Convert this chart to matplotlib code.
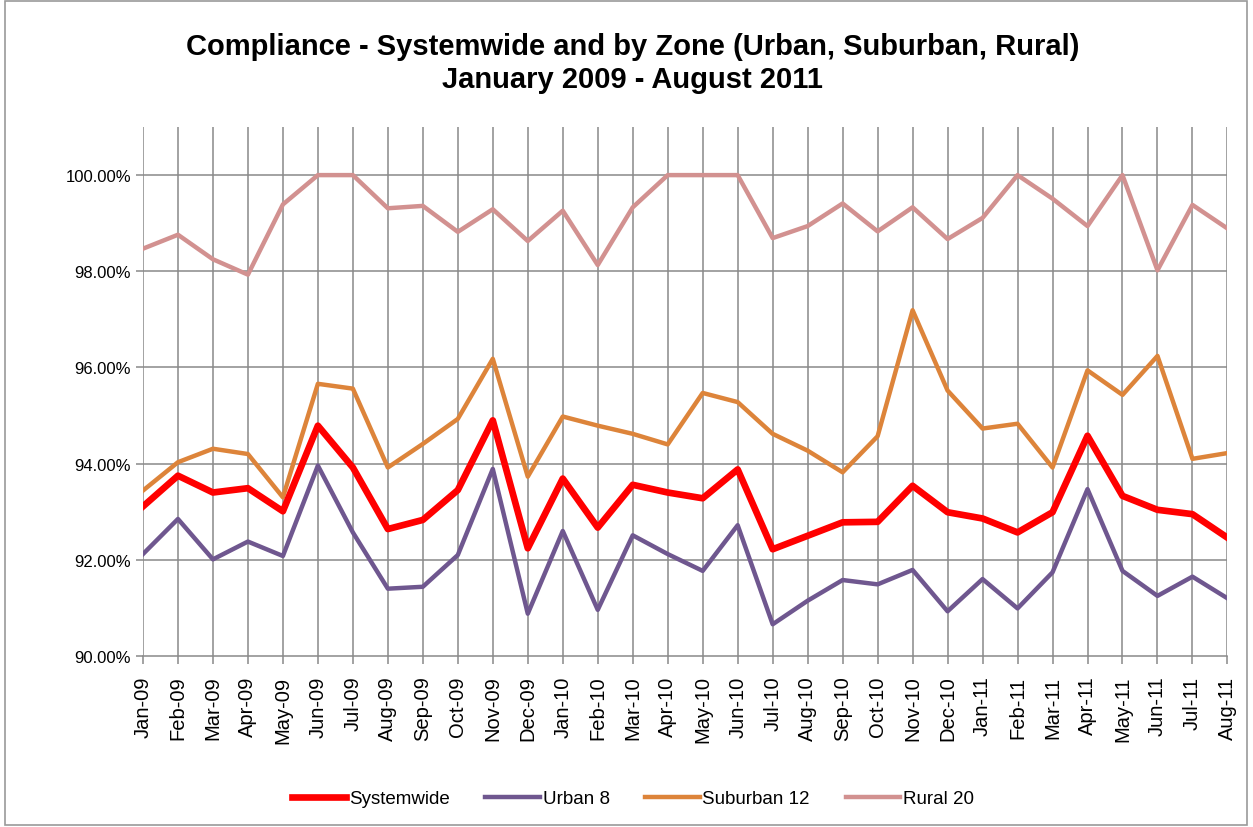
# Compliance chart: systemwide and by zone, Jan 2009 - Aug 2011

import matplotlib
matplotlib.use('Agg')
import matplotlib.pyplot as plt
from matplotlib.patches import Rectangle
from matplotlib.ticker import FuncFormatter

# ---------- Data ----------

months = ['Jan-09', 'Feb-09', 'Mar-09', 'Apr-09', 'May-09', 'Jun-09', 'Jul-09', 'Aug-09',
          'Sep-09', 'Oct-09', 'Nov-09', 'Dec-09', 'Jan-10', 'Feb-10', 'Mar-10', 'Apr-10',
          'May-10', 'Jun-10', 'Jul-10', 'Aug-10', 'Sep-10', 'Oct-10', 'Nov-10', 'Dec-10',
          'Jan-11', 'Feb-11', 'Mar-11', 'Apr-11', 'May-11', 'Jun-11', 'Jul-11', 'Aug-11']

systemwide = [93.11, 93.75, 93.40, 93.49, 93.01, 94.79, 93.92, 92.64, 92.83, 93.45,
              94.90, 92.24, 93.69, 92.67, 93.56, 93.40, 93.28, 93.88, 92.22, 92.50,
              92.78, 92.79, 93.54, 92.99, 92.86, 92.57, 92.99, 94.58, 93.33, 93.04,
              92.95, 92.46]
urban = [92.12, 92.85, 92.01, 92.38, 92.08, 93.96, 92.57, 91.40, 91.44, 92.10,
         93.89, 90.88, 92.60, 90.96, 92.51, 92.12, 91.77, 92.72, 90.66, 91.15,
         91.58, 91.49, 91.79, 90.93, 91.60, 90.99, 91.74, 93.47, 91.77, 91.25,
         91.65, 91.20]
suburban = [93.44, 94.03, 94.31, 94.20, 93.30, 95.66, 95.56, 93.92, 94.41, 94.93,
            96.18, 93.73, 94.98, 94.79, 94.62, 94.40, 95.47, 95.28, 94.62, 94.27,
            93.82, 94.57, 97.19, 95.52, 94.73, 94.83, 93.92, 95.94, 95.43, 96.24,
            94.10, 94.22]
rural = [98.47, 98.76, 98.25, 97.93, 99.39, 100.0, 100.0, 99.31, 99.36, 98.82,
         99.29, 98.63, 99.26, 98.13, 99.33, 100.0, 100.0, 100.0, 98.69, 98.94,
         99.41, 98.83, 99.33, 98.67, 99.11, 100.0, 99.51, 98.94, 100.0, 98.02,
         99.38, 98.89]

labels = ['Systemwide', 'Urban 8', 'Suburban 12', 'Rural 20']
title1 = 'Compliance - Systemwide and by Zone (Urban, Suburban, Rural)'
title2 = 'January 2009 - August 2011'

# ---------- Plot ----------

plt.rcParams['font.family'] = ['Liberation Sans', 'DejaVu Sans']

fig = plt.figure(figsize=(12.53, 8.28), dpi=100)
ax = fig.add_axes([0.1141, 0.2065, 0.8655, 0.6389])

grid_col = '#898989'
x = list(range(len(months)))
ax.plot(x, systemwide, color='#FF0000', lw=4.8, label=labels[0], zorder=5)
ax.plot(x, urban, color='#6F578F', lw=3.2, label=labels[1], zorder=4)
ax.plot(x, suburban, color='#DD843A', lw=3.2, label=labels[2], zorder=3)
ax.plot(x, rural, color='#D29190', lw=3.2, label=labels[3], zorder=3)

ax.set_xlim(0, len(months) - 1)
ax.set_ylim(90, 101)
ax.set_yticks([90, 92, 94, 96, 98, 100])
ax.yaxis.set_major_formatter(FuncFormatter(lambda v, p: f'{v:.2f}%'))
ax.set_xticks(x)
ax.set_xticklabels(months, rotation=90, fontsize=14.5)
ax.tick_params(axis='y', labelsize=12, length=5, color=grid_col, width=1.1)
ax.tick_params(axis='x', length=6, color=grid_col, width=1.1, pad=8)

for v in x:
    ax.axvline(v, color=grid_col, lw=1.1, zorder=1)
for v in [92, 94, 96, 98, 100]:
    ax.axhline(v, color=grid_col, lw=1.1, zorder=1)

for s in ['top', 'right', 'left']:
    ax.spines[s].set_visible(False)
ax.spines['bottom'].set_color(grid_col)
ax.spines['bottom'].set_linewidth(1.1)

fig.text(0.505, 1 - 47 / 828, title1, ha='center', va='center', fontsize=21, fontweight='bold')
fig.text(0.505, 1 - 80 / 828, title2, ha='center', va='center', fontsize=21, fontweight='bold')

fig.legend(loc='center', bbox_to_anchor=(0.505, 0.034), ncol=4, frameon=False, fontsize=13.5,
           handlelength=2.9, handletextpad=0.15, columnspacing=1.9)

fig.patches.append(Rectangle((0.004, 0.003), 0.991, 0.994, transform=fig.transFigure,
                             fill=False, edgecolor='#9a9a9a', lw=1.2))

fig.savefig('out.png', dpi=100)
